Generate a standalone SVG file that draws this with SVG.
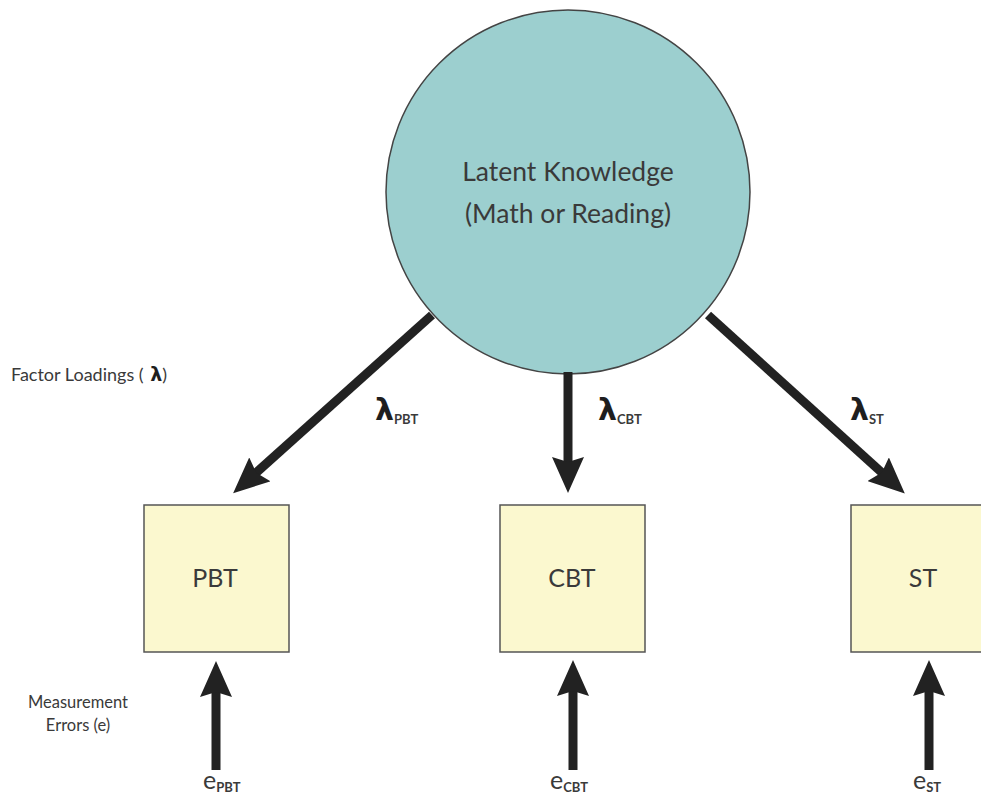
<svg xmlns="http://www.w3.org/2000/svg" width="981" height="799" viewBox="0 0 981 799">
  <defs>
    <style>
      .txt { font-family: "Lato", "Open Sans", "Liberation Sans", sans-serif; fill: #3a3a3a; }
      .lam { font-family: "DejaVu Sans", sans-serif; font-weight: bold; fill: #1e1e1e; }
      .sub { font-family: "Lato", "Liberation Sans", sans-serif; font-weight: bold; fill: #3a3a3a; }
      .box { fill: #fbf8cf; stroke: #555555; stroke-width: 1.5; }
      .edge { stroke: #222222; stroke-width: 9; fill: none; marker-end: url(#head); }
    </style>
    <marker id="head" viewBox="0 0 36 32" refX="16" refY="16" markerWidth="36" markerHeight="32" markerUnits="userSpaceOnUse" orient="auto">
      <path d="M0,0 L36,16 L0,32 L5,16 Z" fill="#222222"/>
    </marker>
  </defs>
  <rect width="981" height="799" fill="#ffffff"/>

  <!-- side notes -->
  <g id="note-loadings">
    <text class="txt" x="11" y="381" font-size="18">Factor Loadings (<tspan class="lam" font-size="19"> λ</tspan>)</text>
  </g>
  <g id="note-errors">
    <text class="txt" x="78" y="708" font-size="16.5" text-anchor="middle">Measurement</text>
    <text class="txt" x="78" y="731" font-size="16.5" text-anchor="middle">Errors (e)</text>
  </g>

  <!-- latent factor -->
  <g id="latent">
    <circle cx="568" cy="192" r="182" fill="#9ccfcf" stroke="#444444" stroke-width="1.5"/>
    <text class="txt" x="568" y="181" font-size="26.5" text-anchor="middle">Latent Knowledge</text>
    <text class="txt" x="568" y="223" font-size="26.5" text-anchor="middle">(Math or Reading)</text>
  </g>

  <!-- observed measures -->
  <g id="pbt">
    <rect class="box" x="144" y="505" width="145" height="147"/>
    <text class="txt" x="215" y="587" font-size="25" text-anchor="middle">PBT</text>
  </g>
  <g id="cbt">
    <rect class="box" x="500" y="505" width="145" height="147"/>
    <text class="txt" x="572" y="587" font-size="25" text-anchor="middle">CBT</text>
  </g>
  <g id="st">
    <rect class="box" x="851" y="505" width="145" height="147"/>
    <text class="txt" x="923" y="587" font-size="25" text-anchor="middle">ST</text>
  </g>

  <!-- loadings and error paths -->
  <g id="connectors">
    <line class="edge" x1="432" y1="315" x2="248" y2="480"/>
    <line class="edge" x1="568" y1="372" x2="568" y2="473"/>
    <line class="edge" x1="708" y1="315" x2="890" y2="480"/>
    <line class="edge" x1="216" y1="770" x2="216" y2="681"/>
    <line class="edge" x1="573" y1="770" x2="573" y2="680"/>
    <line class="edge" x1="929" y1="770" x2="929" y2="680"/>
  </g>

  <!-- path labels -->
  <g id="labels">
    <text x="375" y="420"><tspan class="lam" font-size="30">λ</tspan><tspan class="sub" font-size="13" dy="4">PBT</tspan></text>
    <text x="598" y="420"><tspan class="lam" font-size="30">λ</tspan><tspan class="sub" font-size="13" dy="4">CBT</tspan></text>
    <text x="850" y="420"><tspan class="lam" font-size="30">λ</tspan><tspan class="sub" font-size="13" dy="4">ST</tspan></text>
    <text x="203" y="789"><tspan class="txt" font-size="25">e</tspan><tspan class="sub" font-size="13" dy="3">PBT</tspan></text>
    <text x="550" y="789"><tspan class="txt" font-size="25">e</tspan><tspan class="sub" font-size="13" dy="3">CBT</tspan></text>
    <text x="913" y="789"><tspan class="txt" font-size="25">e</tspan><tspan class="sub" font-size="13" dy="3">ST</tspan></text>
  </g>
</svg>
